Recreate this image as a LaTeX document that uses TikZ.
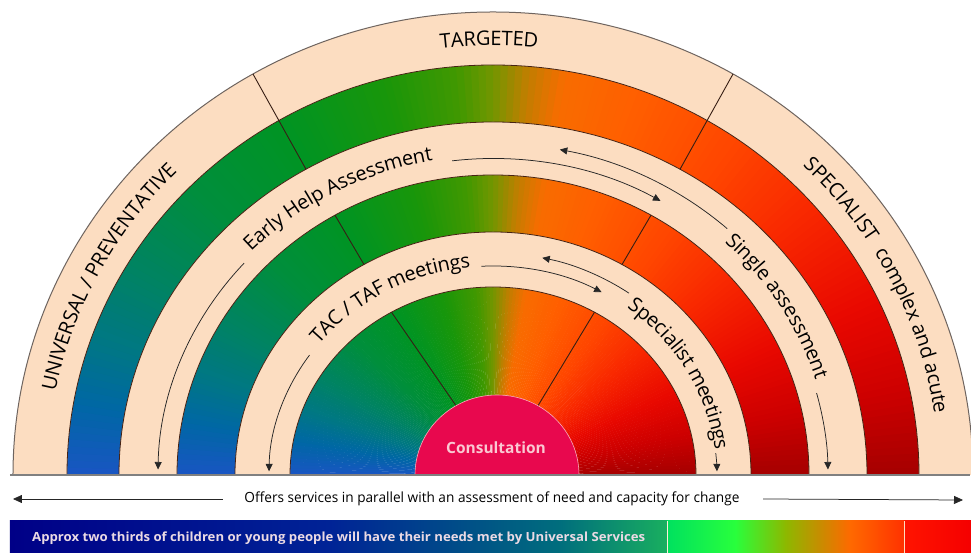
\documentclass[tikz,border=0pt]{standalone}
\usepackage{fontspec}
\setmainfont{Open Sans}
\usetikzlibrary{decorations.text,arrows.meta}
\definecolor{peach}{RGB}{252,221,193}
\definecolor{edgec}{RGB}{70,35,20}
\definecolor{outerc}{RGB}{110,100,95}
\definecolor{divc}{RGB}{55,30,20}
\definecolor{consultc}{RGB}{232,8,78}
\definecolor{consultedge}{RGB}{250,170,185}
\definecolor{consulttext}{RGB}{250,200,210}
\definecolor{bartext}{RGB}{235,218,228}
% angular gradient stops
\definecolor{s0}{RGB}{165,0,0}
\definecolor{s12}{RGB}{205,0,0}
\definecolor{s25}{RGB}{232,8,0}
\definecolor{s40}{RGB}{248,38,0}
\definecolor{s55}{RGB}{255,70,0}
\definecolor{s70}{RGB}{255,95,0}
\definecolor{s80}{RGB}{248,108,0}
\definecolor{s85}{RGB}{195,125,0}
\definecolor{s90}{RGB}{115,150,0}
\definecolor{s95}{RGB}{65,152,0}
\definecolor{s105}{RGB}{25,150,10}
\definecolor{s120}{RGB}{0,148,35}
\definecolor{s135}{RGB}{0,142,60}
\definecolor{s148}{RGB}{0,132,95}
\definecolor{s160}{RGB}{0,120,130}
\definecolor{s170}{RGB}{0,103,165}
\definecolor{s180}{RGB}{25,85,195}
% bar colours
\definecolor{b1}{RGB}{0,0,135}
\definecolor{b2}{RGB}{0,35,150}
\definecolor{b3}{RGB}{0,110,125}
\definecolor{b4}{RGB}{25,175,95}
\definecolor{b5}{RGB}{0,225,95}
\definecolor{b6}{RGB}{40,255,60}
\definecolor{b7}{RGB}{140,185,0}
\definecolor{b8}{RGB}{200,140,0}
\definecolor{b9}{RGB}{255,105,0}
\definecolor{b10}{RGB}{255,50,0}
\definecolor{b11}{RGB}{255,20,0}
\definecolor{b12}{RGB}{245,0,0}
\newcommand\arcfont{\fontsize{20}{24}\selectfont}
\tikzset{
  edgeline/.style={draw=edgec, line width=0.8pt},
  divider/.style={draw=divc, line width=0.9pt},
  ringline/.style={draw=black!85, line width=0.75pt},
  ringarrow/.style={ringline, -{Triangle[length=7.5pt,width=7pt]}},
  arctext/.style={decorate, decoration={text along path, text align=center, raise=-7pt, text={|\arcfont|#1}}}
}
\begin{document}
\begin{tikzpicture}[x=1pt,y=1pt]
\useasboundingbox (-493,-78) rectangle (478,475);
\fill[white] (-493,-78) rectangle (478,475);

% angular gradient wedges
\begin{scope}
\clip (-490,0) rectangle (490,470);
\foreach \a/\b/\ca/\cb in {0/12/s0/s12,12/25/s12/s25,25/40/s25/s40,40/55/s40/s55,55/70/s55/s70,70/80/s70/s80,80/85/s80/s85,85/90/s85/s90,90/95/s90/s95,95/105/s95/s105,105/120/s105/s120,120/135/s120/s135,135/148/s135/s148,148/160/s148/s160,160/170/s160/s170,170/180/s170/s180}{
  \pgfmathtruncatemacro\e{\b-1}
  \foreach \t in {\a,...,\e}{
    \pgfmathsetmacro\p{100*(\t+0.5-\a)/(\b-\a)}
    \pgfmathsetmacro\u{\t+1.15}
    \fill[\cb!\p!\ca] (0,0) -- (\t:432 and 416) arc[start angle=\t, end angle=\u, x radius=432, y radius=416] -- cycle;
  }
}
\end{scope}

% peach rings
\fill[peach] (480,0) arc[start angle=0,end angle=180,x radius=480,y radius=463] -- (-426,0) arc[start angle=180,end angle=0,x radius=426,y radius=410] -- cycle;
\fill[peach] (374,0) arc[start angle=0,end angle=180,x radius=374,y radius=353] -- (-316,0) arc[start angle=180,end angle=0,x radius=316,y radius=300] -- cycle;
\fill[peach] (258,0) arc[start angle=0,end angle=180,x radius=258,y radius=243] -- (-203,0) arc[start angle=180,end angle=0,x radius=203,y radius=188] -- cycle;

% ring edges
\draw[edgeline] (426,0) arc[start angle=0,end angle=180,x radius=426,y radius=410];
\draw[edgeline] (374,0) arc[start angle=0,end angle=180,x radius=374,y radius=353];
\draw[edgeline] (316,0) arc[start angle=0,end angle=180,x radius=316,y radius=300];
\draw[edgeline] (258,0) arc[start angle=0,end angle=180,x radius=258,y radius=243];
\draw[edgeline] (203,0) arc[start angle=0,end angle=180,x radius=203,y radius=188];
\draw[draw=outerc, line width=1pt] (480,0) arc[start angle=0,end angle=180,x radius=480,y radius=463];

% dividers
\draw[divider] (120:480 and 463) -- (120:374 and 353);
\draw[divider] (60:480 and 463) -- (60:374 and 353);
\draw[divider] (120:316 and 300) -- (120:258 and 243);
\draw[divider] (60:316 and 300) -- (60:258 and 243);
\draw[divider] (120:203 and 188) -- (-37,69.3);
\draw[divider] (60:203 and 188) -- (45,69.3);

% consultation
\fill[consultc] (86,0) arc[start angle=0,end angle=180,x radius=82,y radius=80] -- cycle;
\draw[consultedge, line width=0.6pt] (86,0) arc[start angle=0,end angle=180,x radius=82,y radius=80];
\node[text=consulttext, font=\bfseries\fontsize{15.5}{18}\selectfont] (consult) at (3,27) {Consultation};

% base line
\draw[draw=gray, line width=1.1pt] (-483,0) -- (477,0);

% arc labels
\path[arctext={UNIVERSAL / PREVENTATIVE}] (180:453 and 436.5) arc[start angle=180, end angle=124, x radius=453, y radius=436.5];
\path[arctext={TARGETED}] (110:453 and 436.5) arc[start angle=110, end angle=71, x radius=453, y radius=436.5];
\path[arctext={SPECIALIST{\hspace{6pt}} complex and acute}] (57:453 and 436.5) arc[start angle=57, end angle=-3, x radius=453, y radius=436.5];
\path[arctext={Early Help Assessment}] (140:345 and 326.5) arc[start angle=140, end angle=96, x radius=345, y radius=326.5];
\path[arctext={Single assessment}] (51:345 and 326.5) arc[start angle=51, end angle=13, x radius=345, y radius=326.5];
\path[arctext={TAC / TAF meetings}] (145:230.5 and 215.5) arc[start angle=145, end angle=92, x radius=230.5, y radius=215.5];
\path[arctext={Specialist meetings}] (56:230.5 and 215.5) arc[start angle=56, end angle=4, x radius=230.5, y radius=215.5];

% ring 2 connectors
\coordinate (ehStart) at (138:335 and 316.5);
\coordinate (ehEnd) at (97:335 and 316.5);
\coordinate (saStart) at (48:350 and 331.5);
\coordinate (saEnd) at (15:335 and 316.5);
\draw[ringarrow] (ehStart) arc[start angle=138, end angle=179, x radius=335, y radius=316.5];
\draw[ringarrow] (ehEnd) arc[start angle=97, end angle=60, x radius=335, y radius=316.5];
\draw[ringarrow] (saStart) arc[start angle=48, end angle=79, x radius=350, y radius=331.5];
\draw[ringarrow] (saEnd) arc[start angle=15, end angle=1, x radius=335, y radius=316.5];

% ring 3 connectors
\coordinate (tacStart) at (145:224 and 209);
\coordinate (tacEnd) at (93:224 and 209);
\coordinate (smStart) at (55:237 and 222);
\coordinate (smEnd) at (6:224 and 209);
\draw[ringarrow] (tacStart) arc[start angle=145, end angle=179, x radius=224, y radius=209];
\draw[ringarrow] (tacEnd) arc[start angle=93, end angle=61, x radius=224, y radius=209];
\draw[ringarrow] (smStart) arc[start angle=55, end angle=78, x radius=237, y radius=222];
\draw[ringarrow] (smEnd) arc[start angle=6, end angle=1, x radius=224, y radius=209];

% offers line
\node (offers) at (-1,-24) {\resizebox{495pt}{\height}{\fontsize{14}{16}\selectfont Offers services in parallel with an assessment of need and capacity for change}};
\coordinate (leftTip) at (-480,-24);
\coordinate (rightTip) at (470,-25);
\draw[ringline, -{Triangle[length=9pt,width=8pt]}] ([xshift=-18pt]offers.west) -- (leftTip);
\draw[ringline, -{Triangle[length=9pt,width=8pt]}] ([xshift=20pt]offers.east) -- (rightTip);

% bottom bar
\shade[left color=b1, right color=b2] (-483,-46) rectangle (-162.5,-78);
\shade[left color=b2, right color=b3] (-163,-46) rectangle (67.5,-78);
\shade[left color=b3, right color=b4] (67,-46) rectangle (174,-78);
\shade[left color=b5, right color=b6] (174,-46) rectangle (242.5,-78);
\shade[left color=b6, right color=b7] (242,-46) rectangle (292.5,-78);
\shade[left color=b7, right color=b8] (292,-46) rectangle (327.5,-78);
\shade[left color=b8, right color=b9] (327,-46) rectangle (357.5,-78);
\shade[left color=b9, right color=b10] (357,-46) rectangle (411,-78);
\shade[left color=b11, right color=b12] (411,-46) rectangle (478,-78);
\draw[white!85!orange, line width=0.8pt] (174,-46) -- (174,-78);
\draw[white!75!orange, line width=0.8pt] (411,-46) -- (411,-78);
\node[anchor=west, text=bartext, inner sep=0pt] (bar) at (-461,-63) {\resizebox{613pt}{\height}{\fontsize{12.6}{14}\selectfont\bfseries Approx two thirds of children or young people will have their needs met by Universal Services}};
\end{tikzpicture}
\end{document}
